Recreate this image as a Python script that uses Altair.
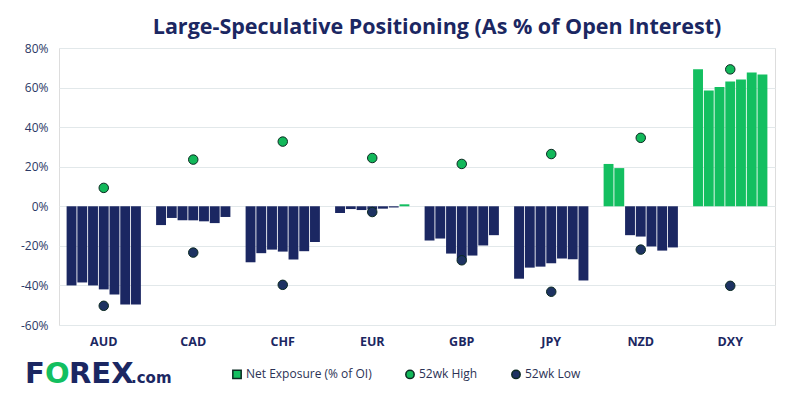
import altair as alt
import pandas as pd

currencies = ["AUD", "CAD", "CHF", "EUR", "GBP", "JPY", "NZD", "DXY"]
weeks = [1, 2, 3, 4, 5, 6, 7]
net_exposure = {
    "AUD": [-40.0, -38.5, -40.0, -42.0, -44.6, -49.7, -49.7],
    "CAD": [-9.5, -5.9, -7.1, -7.1, -7.6, -8.5, -5.4],
    "CHF": [-28.3, -23.7, -21.9, -22.9, -26.9, -22.7, -18.1],
    "EUR": [-3.4, -1.4, -1.9, -1.6, -1.2, -0.6, 1.0],
    "GBP": [-17.3, -16.3, -23.9, -26.6, -24.9, -19.8, -14.6],
    "JPY": [-36.6, -31.0, -30.5, -28.8, -26.4, -26.8, -37.5],
    "NZD": [21.4, 19.3, -14.6, -15.3, -20.3, -22.4, -20.8],
    "DXY": [69.2, 58.5, 60.3, 63.1, 64.1, 67.6, 66.6],
}
high_52wk = [9.3, 23.6, 32.7, 24.4, 21.4, 26.4, 34.6, 69.2]
low_52wk = [-50.3, -23.4, -39.7, -2.9, -27.3, -43.2, -21.9, -40.2]
y_ticks = [-60, -40, -20, 0, 20, 40, 60, 80]
series_names = ["Net Exposure (% of OI)", "52wk High", "52wk Low"]

NAVY = "#1b2762"
GREEN = "#13bf60"
FONT = "Open Sans"

bars = pd.DataFrame(
    [{"ccy": c, "week": w, "value": v}
     for c in currencies for w, v in zip(weeks, net_exposure[c])]
)
points = pd.DataFrame(
    [{"ccy": c, "series": "52wk High", "value": v} for c, v in zip(currencies, high_52wk)]
    + [{"ccy": c, "series": "52wk Low", "value": v} for c, v in zip(currencies, low_52wk)]
)

x_axis = alt.Axis(labelFontWeight="bold", labelColor=NAVY, labelFontSize=12.5,
                  labelFont=FONT, labelAngle=0, domain=False, ticks=False,
                  labelPadding=10, grid=False)
x_scale = alt.Scale(paddingInner=0.17, paddingOuter=0.085)
y_scale = alt.Scale(domain=[-60, 80], nice=False, zero=False)
y_axis = alt.Axis(values=y_ticks, labelExpr="datum.value + '%'", title=None,
                  domain=False, ticks=False, labelColor="#2b3966", labelFontSize=12,
                  labelFont=FONT, labelPadding=11, gridColor="#e2e8ea", gridWidth=1,
                  labelOverlap=False, tickCount=8)

bar_layer = alt.Chart(bars).mark_bar().encode(
    x=alt.X("ccy:N", sort=currencies, title=None, scale=x_scale, axis=x_axis),
    xOffset=alt.XOffset("week:O", scale=alt.Scale(paddingInner=0.08)),
    y=alt.Y("value:Q", scale=y_scale, axis=y_axis),
    color=alt.condition("datum.value > 0", alt.value(GREEN), alt.value(NAVY)),
)

legend_kw = dict(
    title=None, orient="none", legendX=172, legendY=320, direction="horizontal",
    labelFont=FONT, labelFontSize=12, labelColor="#2b3255", columnPadding=30,
    symbolSize=70, labelOffset=3,
)

point_layer = alt.Chart(points).mark_point(
    filled=True, size=90, strokeWidth=1, opacity=1
).encode(
    x=alt.X("ccy:N", sort=currencies, title=None, scale=x_scale, axis=x_axis),
    y=alt.Y("value:Q", scale=y_scale, axis=y_axis),
    color=alt.Color(
        "series:N",
        scale=alt.Scale(domain=series_names, range=[GREEN, "#12b85a", "#1d3262"]),
        legend=alt.Legend(**legend_kw),
    ),
    shape=alt.Shape(
        "series:N",
        scale=alt.Scale(domain=series_names, range=["square", "circle", "circle"]),
        legend=alt.Legend(**legend_kw),
    ),
    stroke=alt.value("#0b2a22"),
)

logo_parts = ["F", "O", "REX", ".com"]
logo_colors = [NAVY, GREEN, NAVY, NAVY]
logo_dx = [-34, -14, 10, 72]
logo_size = [29, 29, 29, 15]
logo_layers = []
for txt, col, dx, fs in zip(logo_parts, logo_colors, logo_dx, logo_size):
    logo_layers.append(
        alt.Chart(pd.DataFrame({"t": [txt]})).mark_text(
            align="left", baseline="alphabetic", font="DejaVu Sans", fontWeight="bold",
            fontSize=fs, color=col,
        ).encode(text="t:N", x=alt.value(dx), y=alt.value(335))
    )

chart = alt.layer(bar_layer, point_layer, *logo_layers).properties(
    width=716, height=277,
    title=alt.TitleParams(
        "Large-Speculative Positioning (As % of Open Interest)",
        font=FONT, fontSize=21.5, fontWeight="bold", color=NAVY, anchor="middle",
        dx=20, offset=4,
    ),
    autosize=alt.AutoSizeParams(type="none"),
    padding={"left": 59, "top": 48, "right": 25, "bottom": 75},
).configure_view(stroke=None).configure(background="white")

chart.save("out.html", embed_options={"renderer": "svg", "actions": False})
